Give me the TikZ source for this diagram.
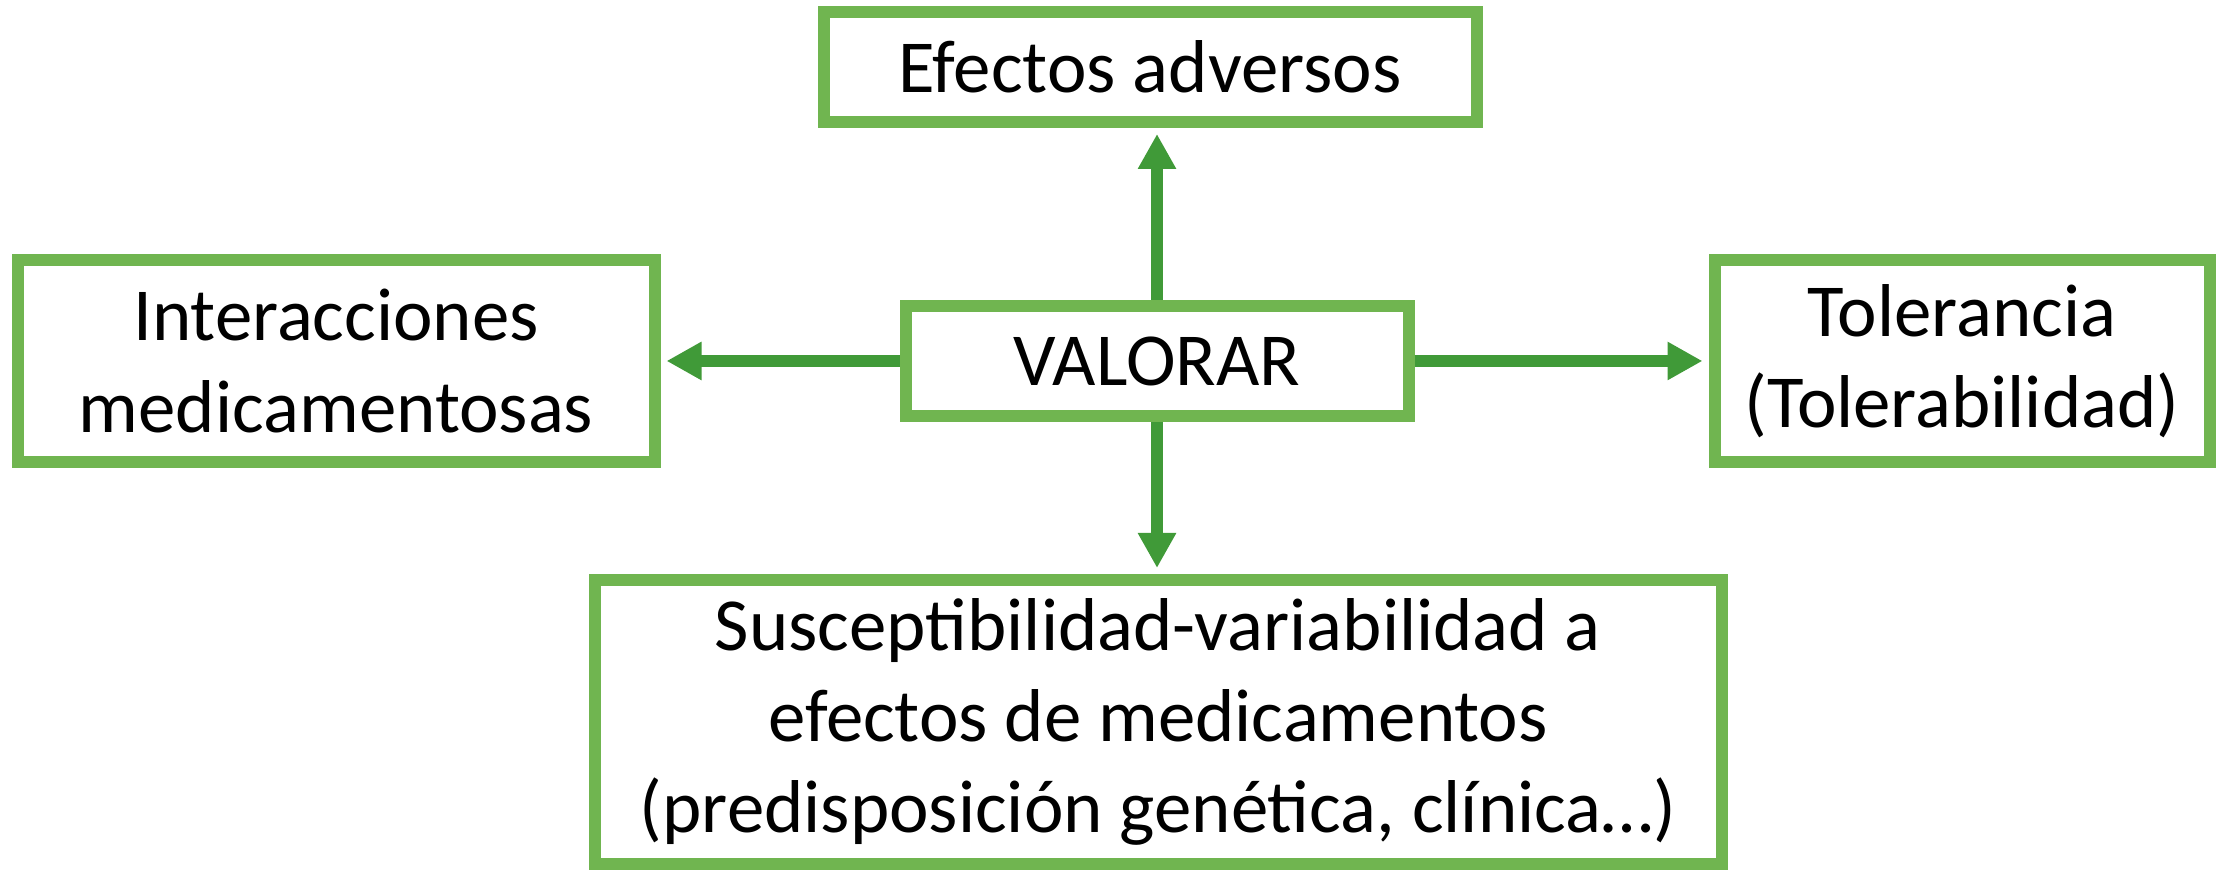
\documentclass[tikz,border=0pt]{standalone}
\usepackage{fontspec}
\setmainfont{Carlito}
\usetikzlibrary{arrows.meta}

\definecolor{boxgreen}{RGB}{112,181,80}
\definecolor{arrowgreen}{RGB}{64,154,56}

\tikzset{
  caja/.style={draw=boxgreen, line width=0.12cm, fill=white, inner sep=0pt,
    align=center, font=\fontsize{21.3}{26}\selectfont},
  flecha/.style={draw=arrowgreen, line width=0.12cm, shorten >=0.06cm,
    -{Triangle[length=0.35cm, width=0.36cm]}}
}

\begin{document}
\begin{tikzpicture}

\useasboundingbox (0,0) rectangle (22.2,8.7);

\node[caja, minimum width=6.53cm, minimum height=1.10cm] (efectos) at (11.50,8.03) {Efectos adversos};
\node[caja, minimum width=6.37cm, minimum height=2.02cm] (interacciones) at (3.36,5.09) {Interacciones\\medicamentosas};
\node[caja, minimum width=5.03cm, minimum height=1.10cm] (valorar) at (11.57,5.09) {VALORAR};
\node[caja, minimum width=4.95cm, minimum height=2.02cm] (tolerancia) at (19.62,5.09) {Tolerancia\\(Tolerabilidad)};
\node[caja, minimum width=11.27cm, minimum height=2.84cm] (susceptibilidad) at (11.58,1.48)
  {Susceptibilidad-variabilidad a\\efectos de medicamentos\\(predisposición genética, clínica…)};

\draw[flecha] (valorar.north) -- (valorar.north |- efectos.south);
\draw[flecha] (valorar.west) -- (interacciones.east);
\draw[flecha] (valorar.east) -- (tolerancia.west);
\draw[flecha] (valorar.south) -- (valorar.south |- susceptibilidad.north);

\end{tikzpicture}
\end{document}
